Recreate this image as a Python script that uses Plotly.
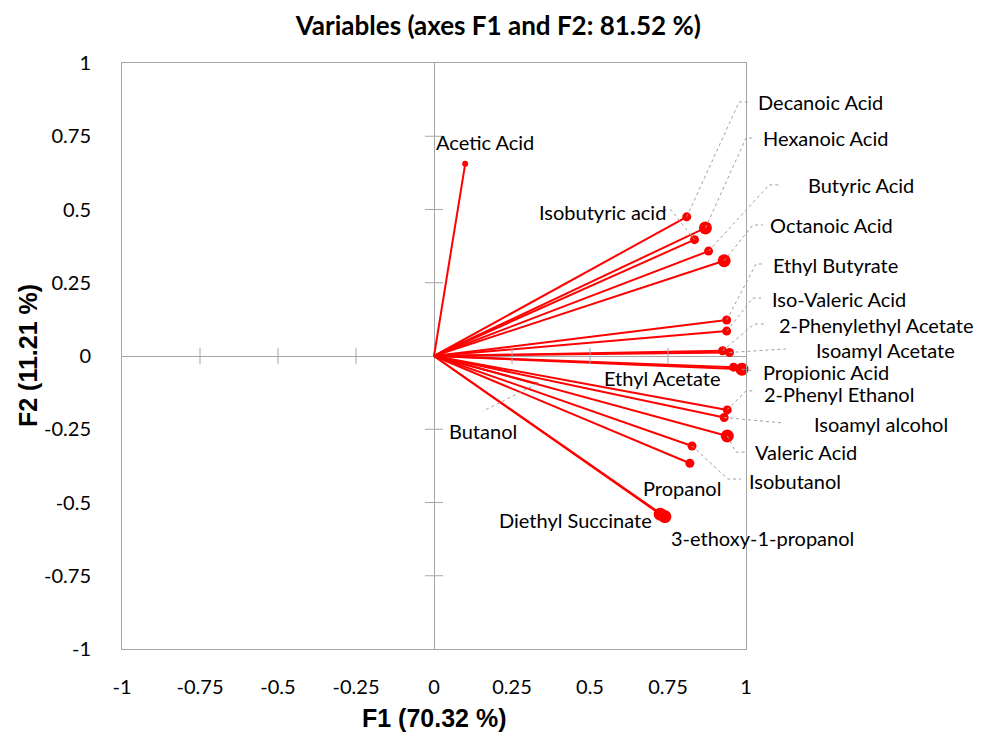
import plotly.graph_objects as go

# Correlation circle coordinates of each variable on F1 / F2
variables = [
    "Acetic Acid", "Decanoic Acid", "Hexanoic Acid", "Isobutyric acid", "Butyric Acid",
    "Octanoic Acid", "Ethyl Butyrate", "Iso-Valeric Acid", "2-Phenylethyl Acetate",
    "Isoamyl Acetate", "Ethyl Acetate", "Propionic Acid", "2-Phenyl Ethanol",
    "Isoamyl alcohol", "Valeric Acid", "Isobutanol", "Propanol", "Diethyl Succinate",
    "3-ethoxy-1-propanol", "Butanol",
]
f1 = [0.10, 0.81, 0.87, 0.835, 0.88, 0.93, 0.938, 0.938, 0.925, 0.947,
      0.96, 0.987, 0.94, 0.93, 0.94, 0.827, 0.82, 0.725, 0.74, 0.33]
f2 = [0.656, 0.475, 0.437, 0.397, 0.358, 0.325, 0.123, 0.085, 0.018, 0.012,
      -0.038, -0.045, -0.184, -0.21, -0.273, -0.307, -0.366, -0.54, -0.548, -0.095]

# Label placement (in F1/F2 units) and anchor side
label_x = [0.0, 1.032, 1.048, 0.750, 1.192, 1.071, 1.080, 1.077, 1.099, 1.218,
           0.538, 1.048, 1.051, 1.212, 1.022, 1.003, 0.663, 0.202, 0.753, 0.042]
label_y = [0.730, 0.867, 0.744, 0.491, 0.584, 0.447, 0.311, 0.195, 0.106, 0.020,
           -0.075, -0.053, -0.128, -0.232, -0.328, -0.427, -0.451, -0.560, -0.621, -0.256]
label_anchor = ["left", "left", "left", "right", "left", "left", "left", "left", "left", "left",
                "left", "left", "left", "left", "left", "left", "left", "left", "left", "left"]

# Leader paths: elbow then end point next to the label
leaders = {
    "Decanoic Acid": [(0.978, 0.867), (1.006, 0.867)],
    "Hexanoic Acid": [(1.000, 0.744), (1.026, 0.744)],
    "Isobutyric acid": [(0.760, 0.498), (0.728, 0.498)],
    "Butyric Acid": [(1.074, 0.584), (1.112, 0.584)],
    "Octanoic Acid": [(1.022, 0.447), (1.054, 0.447)],
    "Ethyl Butyrate": [(1.032, 0.314), (1.058, 0.314)],
    "Iso-Valeric Acid": [(1.022, 0.198), (1.048, 0.198)],
    "2-Phenylethyl Acetate": [(1.026, 0.109), (1.064, 0.109)],
    "Isoamyl Acetate": [(1.128, 0.024)],
    "Propionic Acid": [(1.022, -0.051)],
    "2-Phenyl Ethanol": [(1.000, -0.119), (1.026, -0.119)],
    "Isoamyl alcohol": [(1.122, -0.229)],
    "Valeric Acid": [(0.968, -0.328), (1.006, -0.328)],
    "Isobutanol": [(0.942, -0.420), (0.984, -0.420)],
    "Butanol": [(0.157, -0.188)],
}

marker_size = [6, 9, 13, 9, 9, 13, 9, 9, 9, 9, 9, 13, 9, 9, 13, 9, 9, 13, 13, 3]

ticks = [-1, -0.75, -0.5, -0.25, 0, 0.25, 0.5, 0.75, 1]
tick_text = ["-1", "-0.75", "-0.5", "-0.25", "0", "0.25", "0.5", "0.75", "1"]

x_title = "<b>F1 (70.32 %)</b>"
y_title = "<b>F2 (11.21 %)</b>"

RED = "#FF0000"
AXIS_GREY = "#A6A6A6"
LEADER_GREY = "#A0A0A0"
FONT = "Lato"
AXIS_TITLE_FONT = "Liberation Sans"

fig = go.Figure()

# Vectors from the origin
vx, vy = [], []
for x, y in zip(f1, f2):
    vx += [0, x, None]
    vy += [0, y, None]
fig.add_trace(go.Scatter(x=vx, y=vy, mode="lines",
                         line=dict(color=RED, width=2), hoverinfo="skip"))
fig.add_trace(go.Scatter(x=f1, y=f2, mode="markers", text=variables,
                         marker=dict(color=RED, size=marker_size, opacity=1,
                                     line=dict(width=0)),
                         cliponaxis=False))


def to_paper(x, y):
    return (x + 1) / 2, (y + 1) / 2


shapes = []
# Cross ticks on the zero lines
for t in ticks:
    if t in (-1, 0, 1):
        continue
    shapes.append(dict(type="line", xref="x", yref="y", x0=t, x1=t, y0=-0.028, y1=0.028,
                       line=dict(color=AXIS_GREY, width=1)))
    shapes.append(dict(type="line", xref="x", yref="y", x0=-0.029, x1=0.029, y0=t, y1=t,
                       line=dict(color=AXIS_GREY, width=1)))

# Dotted leader lines
for name, x, y in zip(variables, f1, f2):
    if name not in leaders:
        continue
    pts = [to_paper(x, y)] + [to_paper(a, b) for a, b in leaders[name]]
    path = "M " + " L ".join(f"{px:.4f},{py:.4f}" for px, py in pts)
    shapes.append(dict(type="path", xref="paper", yref="paper", path=path,
                       line=dict(color=LEADER_GREY, width=1, dash="dot")))

annotations = []
for name, lx, ly, anc in zip(variables, label_x, label_y, label_anchor):
    px, py = to_paper(lx, ly)
    annotations.append(dict(x=px, y=py, xref="paper", yref="paper", text=name,
                            showarrow=False, xanchor=anc, yanchor="middle",
                            font=dict(family=FONT, size=20, color="#000000")))

# Axis titles placed beneath / beside the frame
annotations.append(dict(x=0.5, y=0, xref="paper", yref="paper", text=x_title,
                        showarrow=False, xanchor="center", yanchor="middle", yshift=-69,
                        font=dict(family=AXIS_TITLE_FONT, size=25, color="#000000")))
annotations.append(dict(x=0, y=0.5, xref="paper", yref="paper", text=y_title,
                        showarrow=False, xanchor="center", yanchor="middle", xshift=-94,
                        textangle=-90,
                        font=dict(family=AXIS_TITLE_FONT, size=25, color="#000000")))

axis_common = dict(range=[-1, 1], tickvals=ticks, ticktext=tick_text,
                   showgrid=False, zeroline=True, zerolinecolor=AXIS_GREY, zerolinewidth=1,
                   showline=True, mirror=True, linecolor=AXIS_GREY, linewidth=1,
                   ticks="", tickfont=dict(family=FONT, size=20, color="#000000"),
                   automargin=False)

fig.update_layout(
    width=983, height=735,
    margin=dict(l=122, r=237, t=63, b=86),
    paper_bgcolor="white", plot_bgcolor="white",
    showlegend=False,
    title=dict(text="<b>Variables (axes F1 and F2: 81.52 %)</b>", x=0.507, xanchor="center",
               y=0.965, yanchor="middle",
               font=dict(family=FONT, size=26, color="#000000")),
    xaxis=dict(**axis_common, ticklabelstandoff=20),
    yaxis=dict(**axis_common, ticklabelstandoff=26),
    shapes=shapes,
    annotations=annotations,
)

fig.write_html("out.html")
